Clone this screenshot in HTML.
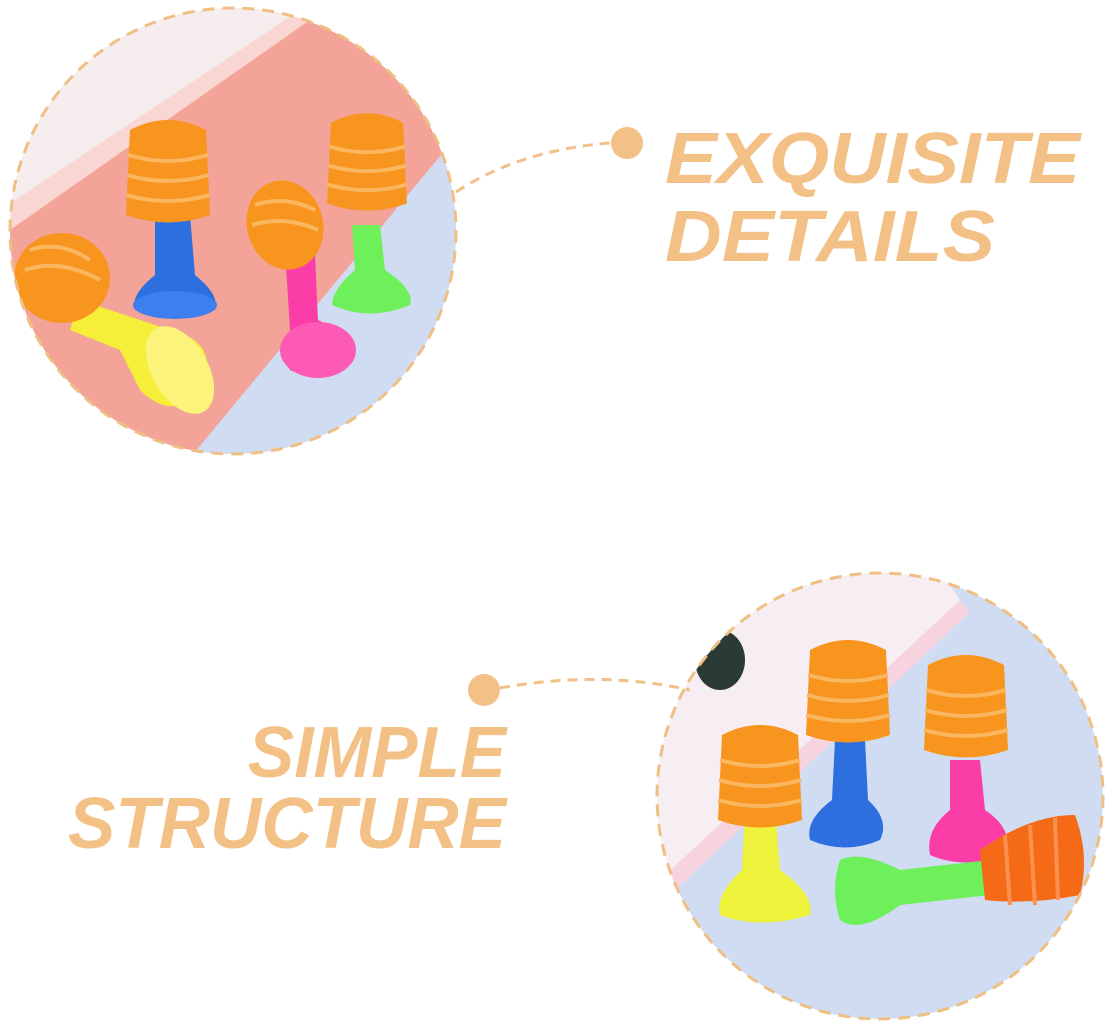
<!DOCTYPE html>
<html><head><meta charset="utf-8"><style>
html,body{margin:0;padding:0;background:#fff;width:1109px;height:1032px;overflow:hidden}
svg{display:block}
text{font-family:"Liberation Sans",sans-serif;font-weight:bold;font-style:italic;fill:#f3c186}
</style></head><body>
<svg width="1109" height="1032" viewBox="0 0 1109 1032">
<defs>
<clipPath id="c1"><circle cx="233" cy="231" r="223"/></clipPath>
<clipPath id="c2"><circle cx="880" cy="796" r="223"/></clipPath>
<g id="cap">
  <path d="M-38,-55 Q0,-75 38,-55 L42,30 Q0,45 -42,30 Z" fill="#f7951e"/>
  <path d="M-40,-30 Q0,-18 40,-30 M-41,-10 Q0,2 41,-10 M-42,10 Q0,22 42,10" stroke="#fbb760" stroke-width="4" fill="none"/>
</g>
</defs>
<!-- top circle -->
<g clip-path="url(#c1)">
  <rect x="0" y="0" width="470" height="470" fill="#f3a398"/>
  <polygon points="0,0 320,0 300,15 10,215 0,220" fill="#f6eeee"/>
  <polygon points="0,210 300,10 310,20 10,230" fill="#f9d6d2"/>
  <polygon points="470,120 470,470 180,470" fill="#cfdcf2"/>
  <!-- yellow -->
  <path d="M80,300 L140,320 L185,335 Q220,350 200,395 Q170,420 140,390 L120,350 L70,330 Z" fill="#f5ef3a"/>
  <ellipse cx="180" cy="370" rx="28" ry="48" transform="rotate(-30 180 370)" fill="#fbf37a"/>
  <ellipse cx="62" cy="278" rx="48" ry="45" fill="#f7951e"/>
  <path d="M30,250 Q60,240 90,260 M25,270 Q60,258 100,280" stroke="#fbb760" stroke-width="4" fill="none"/>
  <!-- blue -->
  <path d="M155,215 L190,215 L195,275 Q220,295 215,310 Q175,325 135,310 Q130,295 155,275 Z" fill="#2e6fe0"/>
  <ellipse cx="175" cy="305" rx="42" ry="14" fill="#3d7fee"/>
  <use href="#cap" transform="translate(168,185)"/>
  <!-- green -->
  <path d="M352,225 L380,225 L385,270 Q415,290 410,305 Q370,322 332,305 Q332,290 355,270 Z" fill="#6ef05a"/>
  <use href="#cap" transform="translate(367,175) scale(0.95)"/>
  <!-- pink -->
  <path d="M285,250 L315,255 L318,320 Q350,335 350,355 Q320,385 290,370 Q280,355 290,330 Z" fill="#fb3ea7"/>
  <ellipse cx="318" cy="350" rx="38" ry="28" fill="#fd5ab5"/>
  <ellipse cx="285" cy="225" rx="38" ry="45" transform="rotate(-15 285 225)" fill="#f7951e"/>
  <path d="M255,205 Q285,195 315,210 M252,225 Q285,215 318,230" stroke="#fbb760" stroke-width="4" fill="none"/>
</g>
<circle cx="233" cy="231" r="223" fill="none" stroke="#efbf84" stroke-width="3" stroke-dasharray="12 8"/>
<!-- bottom circle -->
<g clip-path="url(#c2)">
  <rect x="650" y="570" width="460" height="460" fill="#cfdcf2"/>
  <polygon points="650,570 940,570 960,600 680,870 650,880" fill="#f6eef2"/>
  <polygon points="660,880 960,600 970,612 670,895" fill="#f6d3df"/>
  <ellipse cx="720" cy="660" rx="25" ry="30" fill="#2c3a35"/>
  <!-- blue -->
  <path d="M835,740 L865,740 L868,800 Q890,820 880,840 Q845,855 810,840 Q805,820 832,800 Z" fill="#2e6fe0"/>
  <use href="#cap" transform="translate(848,705)"/>
  <!-- pink -->
  <path d="M950,760 L980,760 L985,810 Q1015,830 1005,855 Q965,870 930,855 Q925,830 950,810 Z" fill="#fb3ea7"/>
  <use href="#cap" transform="translate(966,720)"/>
  <!-- yellow -->
  <path d="M745,810 L775,810 L780,870 Q815,895 810,915 Q760,930 720,915 Q715,895 742,870 Z" fill="#eef23a"/>
  <use href="#cap" transform="translate(760,790)"/>
  <!-- green horizontal -->
  <path d="M990,860 L990,895 L900,905 Q860,935 840,920 Q830,890 840,860 Q860,850 900,870 Z" fill="#6ef05a"/>
  <path d="M980,850 Q1030,815 1075,815 Q1090,855 1080,895 Q1030,905 985,900 Z" fill="#f46a16"/>
  <path d="M1005,835 L1010,905 M1030,825 L1035,905 M1055,818 L1058,900" stroke="#fb9150" stroke-width="4"/>
</g>
<circle cx="880" cy="796" r="223" fill="none" stroke="#efbf84" stroke-width="3" stroke-dasharray="12 8"/>
<!-- connectors -->
<path d="M456,192 Q520,150 610,143" fill="none" stroke="#f0c086" stroke-width="3" stroke-dasharray="10 7"/>
<circle cx="627" cy="143" r="16" fill="#f3c186"/>
<path d="M500,688 Q600,670 690,690" fill="none" stroke="#f0c086" stroke-width="3" stroke-dasharray="10 7"/>
<circle cx="484" cy="690" r="16" fill="#f3c186"/>
<!-- text -->
<text x="665" y="183" font-size="72" textLength="415" lengthAdjust="spacingAndGlyphs">EXQUISITE</text>
<text x="665" y="261" font-size="72" textLength="330" lengthAdjust="spacingAndGlyphs">DETAILS</text>
<text x="248" y="777" font-size="72" textLength="258" lengthAdjust="spacingAndGlyphs">SIMPLE</text>
<text x="68" y="848" font-size="72" textLength="438" lengthAdjust="spacingAndGlyphs">STRUCTURE</text>
</svg>
</body></html>
